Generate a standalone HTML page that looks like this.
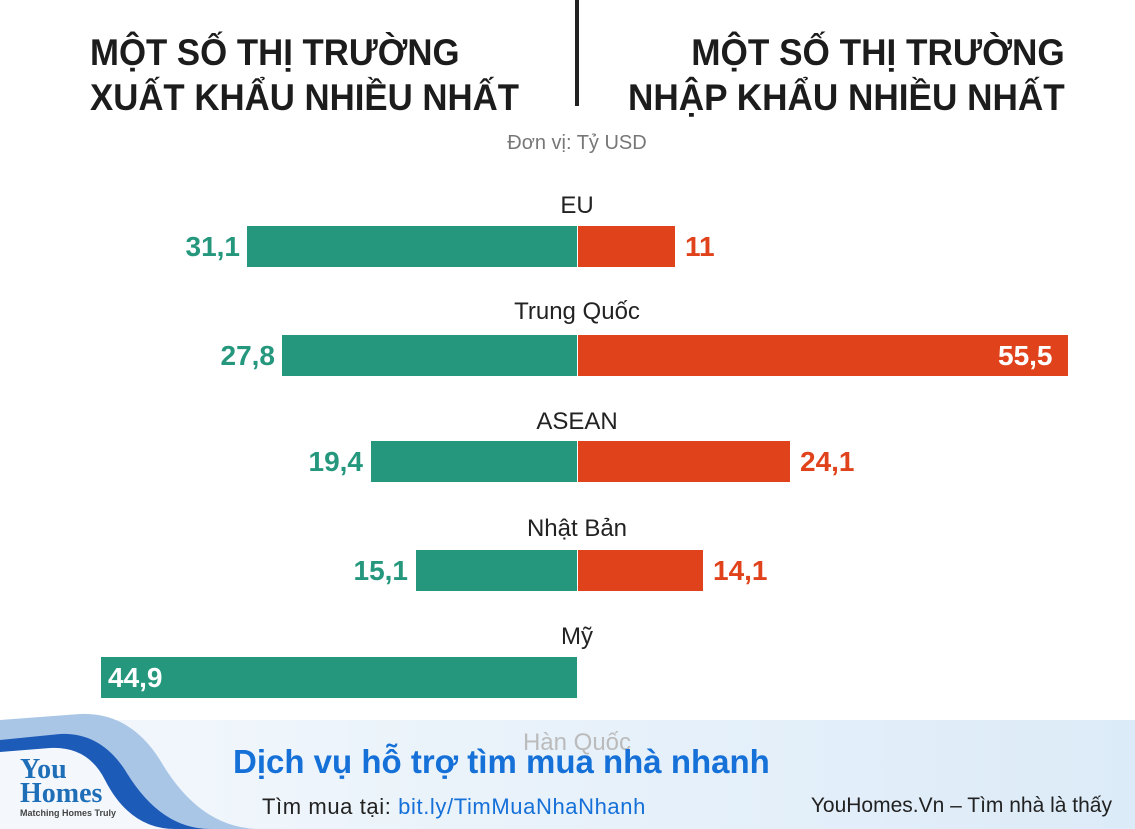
<!DOCTYPE html>
<html><head><meta charset="utf-8"><style>
body{margin:0;width:1135px;height:829px;background:#fff;position:relative;overflow:hidden;font-family:"Liberation Sans",sans-serif}
.a{position:absolute}
.t{font-weight:bold;font-size:37px;line-height:45px;color:#1c1c1c;top:30px;white-space:nowrap}
.lab{font-size:24px;color:#222;width:300px;text-align:center;left:427px}
.g{background:#24977d;height:41px}
.o{background:#e0431c;height:41px;left:578px}
.v{font-weight:bold;font-size:28px;line-height:41px}
.gv{color:#24977d;text-align:right;width:150px}
.ov{color:#e0431c}
</style></head><body>
<div class="a t" style="left:90px;transform:scaleX(0.94);transform-origin:left">MỘT SỐ THỊ TRƯỜNG<br>XUẤT KHẨU NHIỀU NHẤT</div>
<div class="a t" style="right:70px;text-align:right;transform:scaleX(0.95);transform-origin:right">MỘT SỐ THỊ TRƯỜNG<br>NHẬP KHẨU NHIỀU NHẤT</div>
<div class="a" style="left:575px;top:0;width:4px;height:106px;background:#222"></div>
<div class="a" style="left:427px;width:300px;text-align:center;top:132px;font-size:20px;color:#777">Đơn vị: Tỷ USD</div>

<div class="a lab" style="top:192px">EU</div>
<div class="a g" style="left:247px;width:330px;top:226px"></div>
<div class="a o" style="width:97px;top:226px"></div>
<div class="a v gv" style="left:90px;top:226px">31,1</div>
<div class="a v ov" style="left:685px;top:226px">11</div>

<div class="a lab" style="top:298px">Trung Quốc</div>
<div class="a g" style="left:282px;width:295px;top:335px"></div>
<div class="a o" style="width:490px;top:335px"></div>
<div class="a v gv" style="left:125px;top:335px">27,8</div>
<div class="a v" style="left:998px;top:335px;color:#fff">55,5</div>

<div class="a lab" style="top:408px">ASEAN</div>
<div class="a g" style="left:371px;width:206px;top:441px"></div>
<div class="a o" style="width:212px;top:441px"></div>
<div class="a v gv" style="left:213px;top:441px">19,4</div>
<div class="a v ov" style="left:800px;top:441px">24,1</div>

<div class="a lab" style="top:515px">Nhật Bản</div>
<div class="a g" style="left:416px;width:161px;top:550px"></div>
<div class="a o" style="width:125px;top:550px"></div>
<div class="a v gv" style="left:258px;top:550px">15,1</div>
<div class="a v ov" style="left:713px;top:550px">14,1</div>

<div class="a lab" style="top:623px">Mỹ</div>
<div class="a g" style="left:101px;width:476px;top:657px"></div>
<div class="a v" style="left:108px;top:657px;color:#fff">44,9</div>

<svg class="a" style="left:0;top:700px" width="1135" height="129">
<defs><linearGradient id="bg" x1="0" x2="1"><stop offset="0" stop-color="#f4f8fc"/><stop offset="1" stop-color="#dcebf8"/></linearGradient></defs>
<rect x="0" y="20" width="1135" height="109" fill="url(#bg)"/>
<path d="M0 20 L80 14 Q130 12 160 60 Q200 129 260 129 L0 129Z" fill="#aac6e6"/>
<path d="M0 40 L60 34 Q100 32 125 70 Q160 129 210 129 L0 129Z" fill="#1d5bb8"/>
<path d="M0 52 L50 48 Q88 46 105 80 Q130 129 175 129 L0 129Z" fill="#f4f8fc"/>
</svg>
<div class="a" style="left:427px;width:300px;text-align:center;top:729px;font-size:24px;color:#bbb">Hàn Quốc</div>
<div class="a" style="left:20px;top:758px;font-family:'Liberation Serif',serif;font-weight:bold;font-size:28px;line-height:24px;color:#1f6fb8">You<br>Homes</div>
<div class="a" style="left:20px;top:808px;font-size:9px;color:#444;font-weight:bold">Matching Homes Truly</div>
<div class="a" style="left:233px;top:743px;font-size:33px;font-weight:bold;color:#1570d8">Dịch vụ hỗ trợ tìm mua nhà nhanh</div>
<div class="a" style="left:262px;top:794px;font-size:22px;color:#222;letter-spacing:0.6px">Tìm mua tại: <span style="color:#1570d8">bit.ly/TimMuaNhaNhanh</span></div>
<div class="a" style="right:23px;top:794px;font-size:21px;color:#222">YouHomes.Vn – Tìm nhà là thấy</div>
</body></html>
